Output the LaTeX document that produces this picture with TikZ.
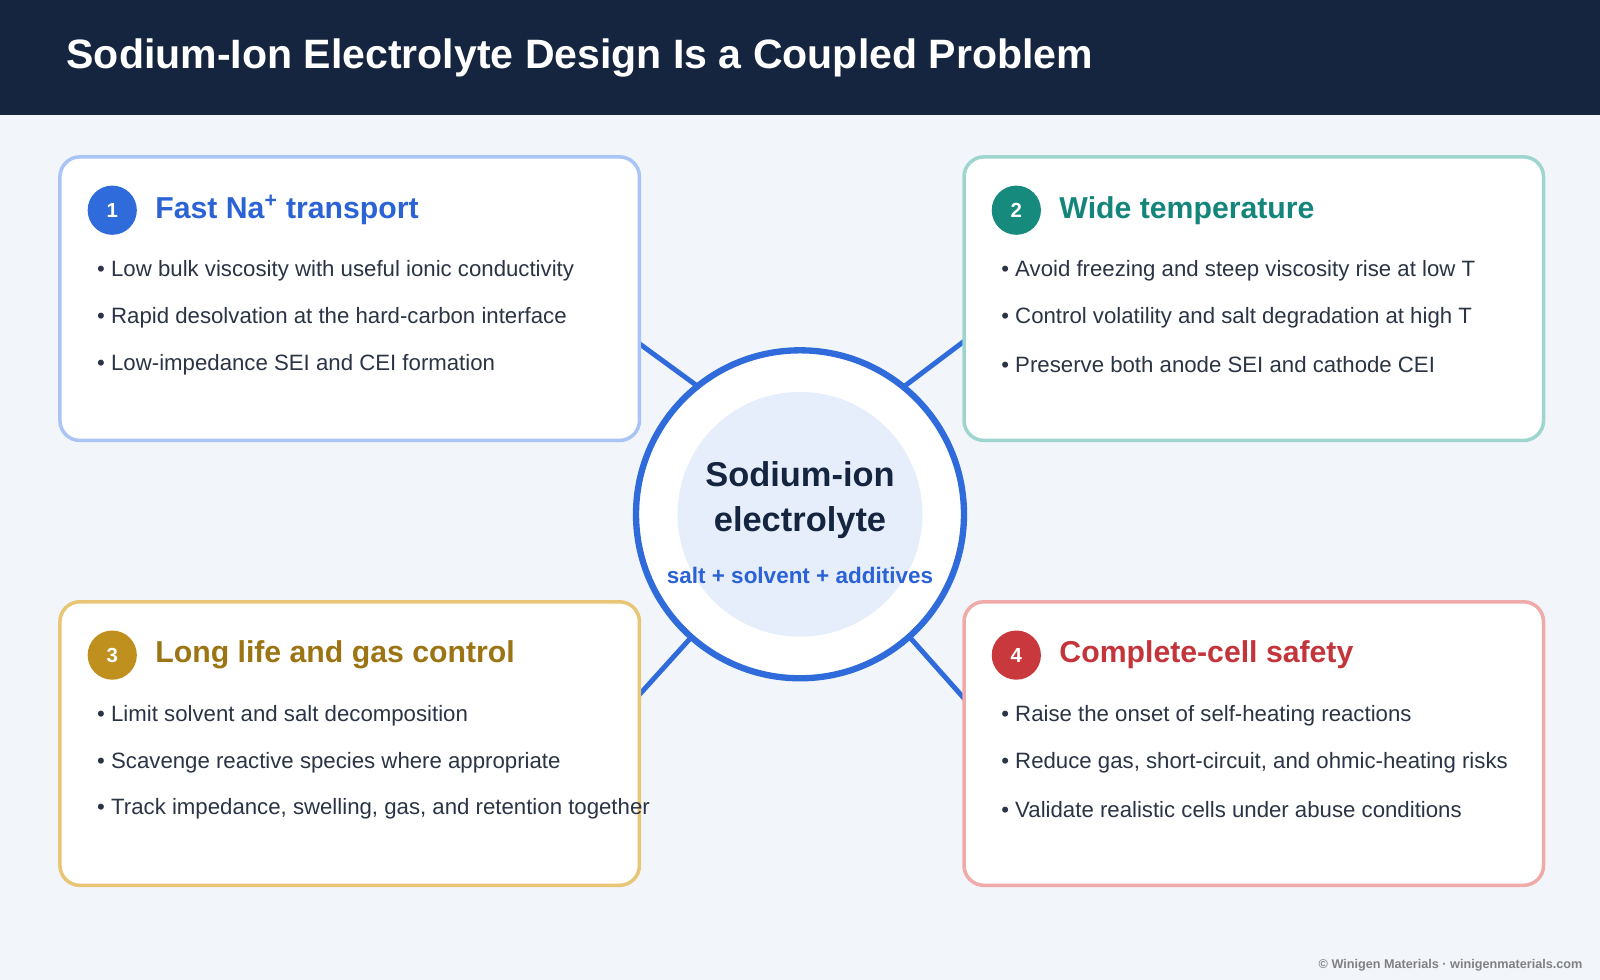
\documentclass[tikz,border=0pt]{standalone}
\usepackage{fontspec}
\setmainfont{Liberation Sans}
\usetikzlibrary{positioning}
\definecolor{navy}{HTML}{15243F}
\definecolor{paper}{HTML}{F2F5FA}
\definecolor{ink}{HTML}{2B3445}
\definecolor{hubblue}{HTML}{2F6BDB}
\definecolor{hubfill}{HTML}{E6EEFC}
\definecolor{cblue}{HTML}{2B62D6}\definecolor{bblue}{HTML}{A9C4F5}
\definecolor{cteal}{HTML}{14857A}\definecolor{bteal}{HTML}{9ED5CF}\definecolor{nteal}{HTML}{178A7E}
\definecolor{cgold}{HTML}{9C7414}\definecolor{bgold}{HTML}{E8C676}\definecolor{ngold}{HTML}{C0901E}
\definecolor{cred}{HTML}{C3353B}\definecolor{bred}{HTML}{F0AAAA}\definecolor{nred}{HTML}{C8383D}
\begin{document}
\begin{tikzpicture}[x=0.02551cm,y=-0.02551cm,
  box/.style={draw=#1,line width=2.5pt,fill=white,rounded corners=0.5cm,minimum width=14.49cm,minimum height=7.09cm,anchor=north west},
  num/.style={circle,fill=#1,text=white,font=\bfseries\fontsize{14.5}{16}\selectfont,minimum size=1.23cm,inner sep=0pt},
  head/.style={anchor=west,text=#1,font=\bfseries\fontsize{21.5}{24}\selectfont,inner sep=0pt},
  item/.style={anchor=west,text=ink,font=\fontsize{15.8}{18}\selectfont,inner sep=0pt},
  spoke/.style={hubblue,line width=3.5pt}]
  \useasboundingbox (0,0) rectangle (1568,960);
  \fill[paper] (0,0) rectangle (1568,960);
  \fill[navy] (0,0) rectangle (1568,113);
  \node[anchor=west,text=white,font=\bfseries\fontsize{29.2}{33}\selectfont,inner sep=0pt] (title) at (65,57) {Sodium-Ion Electrolyte Design Is a Coupled Problem};

  % Spokes
  \coordinate (s1a) at (620,332); \coordinate (s1b) at (683,378);
  \coordinate (s2a) at (948,332); \coordinate (s2b) at (887,378);
  \coordinate (s3a) at (620,688); \coordinate (s3b) at (677,625);
  \coordinate (s4a) at (948,688); \coordinate (s4b) at (892,625);
  \draw[spoke] (s1a) -- (s1b); \draw[spoke] (s2a) -- (s2b);
  \draw[spoke] (s3a) -- (s3b); \draw[spoke] (s4a) -- (s4b);

  % Boxes
  \node[box=bblue] (b1) at (57,152) {};
  \node[box=bteal] (b2) at (943,152) {};
  \node[box=bgold] (b3) at (57,588) {};
  \node[box=bred]  (b4) at (943,588) {};

  % Hub
  \node[circle,draw=hubblue,line width=4.5pt,fill=white,minimum size=8.2cm] (hub) at (784,504) {};
  \node[circle,fill=hubfill,minimum size=6.12cm] (core) at (784,504) {};
  \node[text=navy,font=\bfseries\fontsize{24.5}{32}\selectfont,align=center] (name) at (784,490) {Sodium-ion\\electrolyte};
  \node[text=cblue,font=\bfseries\fontsize{16}{18}\selectfont] (mix) at (784,564) {salt + solvent + additives};

  % Box 1
  \node[num=hubblue] (n1) at (110,206) {1};
  \node[head=cblue] (h1) at (152,206) {Fast Na\textsuperscript{+} transport};
  \node[item] (i11) at (95,265) {• Low bulk viscosity with useful ionic conductivity};
  \node[item] (i12) at (95,311) {• Rapid desolvation at the hard-carbon interface};
  \node[item] (i13) at (95,357) {• Low-impedance SEI and CEI formation};
  % Box 2
  \node[num=nteal] (n2) at (996,206) {2};
  \node[head=cteal] (h2) at (1038,206) {Wide temperature};
  \node[item] (i21) at (981,265) {• Avoid freezing and steep viscosity rise at low T};
  \node[item] (i22) at (981,311) {• Control volatility and salt degradation at high T};
  \node[item] (i23) at (981,357) {• Preserve both anode SEI and cathode CEI};
  % Box 3
  \node[num=ngold] (n3) at (110,642) {3};
  \node[head=cgold] (h3) at (152,642) {Long life and gas control};
  \node[item] (i31) at (95,701) {• Limit solvent and salt decomposition};
  \node[item] (i32) at (95,747) {• Scavenge reactive species where appropriate};
  \node[item] (i33) at (95,793) {• Track impedance, swelling, gas, and retention together};
  % Box 4
  \node[num=nred] (n4) at (996,642) {4};
  \node[head=cred] (h4) at (1038,642) {Complete-cell safety};
  \node[item] (i41) at (981,701) {• Raise the onset of self-heating reactions};
  \node[item] (i42) at (981,747) {• Reduce gas, short-circuit, and ohmic-heating risks};
  \node[item] (i43) at (981,793) {• Validate realistic cells under abuse conditions};

  \node[anchor=east,text=gray,font=\bfseries\fontsize{9}{10}\selectfont,inner sep=0pt] (foot) at (1551,946) {© Winigen Materials · winigenmaterials.com};
\end{tikzpicture}
\end{document}
